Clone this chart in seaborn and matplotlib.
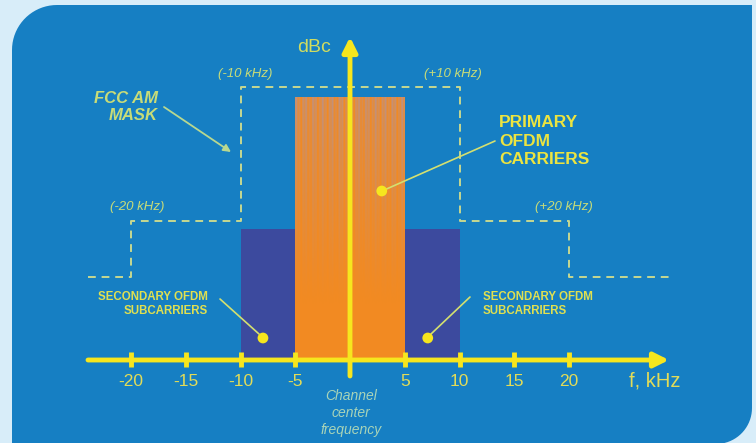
import numpy as np
import matplotlib
matplotlib.use("Agg")
import matplotlib.pyplot as plt
import matplotlib.transforms as mtransforms
from matplotlib.patches import PathPatch
from matplotlib.path import Path
import seaborn as sns

# spectrum data (frequency in kHz, relative level)
mask_f = [-23.9, -20, -20, -10, -10, 10, 10, 20, 20, 29.2]
mask_lvl = [8.3, 8.3, 13.9, 13.9, 27.3, 27.3, 13.9, 13.9, 8.3, 8.3]
primary_edges = [-5, 5]
primary_lvl = 26.3
secondary_left = [-10, -5]
secondary_right = [5, 10]
secondary_lvl = 13.1
tick_vals = [-20, -15, -10, -5, 5, 10, 15, 20]
tick_labels = ["-20", "-15", "-10", "-5", "5", "10", "15", "20"]
dot_f = [2.9, -7.95, 7.1]
dot_lvl = [16.9, 2.2, 2.2]

sns.set_theme(style="white")
plt.rcParams['font.family'] = ['Liberation Sans', 'DejaVu Sans']

YELLOW = "#f6e61e"
TXT = "#ece440"
PALE = "#c8dc78"
PANEL = "#167fc3"
ORANGE = "#f28a22"
PURPLE = "#3c4a9e"

W, H = 756, 443
fig = plt.figure(figsize=(W / 100, H / 100), dpi=100)
fig.patch.set_facecolor("#d8edf9")

# pixel -> data helpers (0 kHz at x=350, baseline at y=360)
def X(px):
    return (px - 350) / 10.95

def Y(py):
    return (360 - py) / 10.0

# rounded blue panel, drawn in pixel coordinates
pix = mtransforms.Affine2D().scale(1 / W, -1 / H).translate(0, 1) + fig.transFigure
r1, r2 = 45, 36
a1 = np.linspace(np.pi, 1.5 * np.pi, 20)
a2 = np.linspace(0, 0.5 * np.pi, 20)
pts = [(12, H + 10)]
pts += [(12 + r1 + r1 * np.cos(a), 5 + r1 + r1 * np.sin(a)) for a in a1]
pts += [(W + 10, 5), (752, 5)]
pts += [(752 - r2 + r2 * np.cos(a), 444 - r2 + r2 * np.sin(a)) for a in a2]
pts += [(12, 444), (12, H + 10)]
fig.patches.append(PathPatch(Path(pts), transform=pix, facecolor=PANEL,
                             edgecolor="none", zorder=-10))

ax = fig.add_axes([0, 0, 1, 1])
ax.set_zorder(5)
ax.set_facecolor("none")
ax.patch.set_alpha(0)
ax.axis("off")

# secondary subcarrier blocks
for lo, hi in [secondary_left, secondary_right]:
    ax.bar((lo + hi) / 2, secondary_lvl, width=hi - lo, color=PURPLE,
           linewidth=0, zorder=2)

# primary carriers block with striped texture
lo, hi = primary_edges
ax.bar((lo + hi) / 2, primary_lvl, width=hi - lo, color=ORANGE, linewidth=0, zorder=2)
cols = np.arange(110)
stripe = 0.5 + 0.25 * np.sin(cols * 1.9) + 0.25 * np.sin(cols * 0.71 + 1.0)
rows = np.linspace(1, 0, 160)
fade = np.clip((rows - 0.2) / 0.8, 0, 1) ** 1.2
tex = np.zeros((160, 110, 4))
tex[..., 0] = 0.70
tex[..., 1] = 0.58
tex[..., 2] = 0.60
tex[..., 3] = 0.8 * fade[:, None] * stripe[None, :]
ax.imshow(tex, extent=[lo, hi, 0, primary_lvl], aspect="auto", zorder=3,
          interpolation="bilinear")
ax.set_xlim(X(0), X(W))
ax.set_ylim(Y(H), Y(0))

# FCC mask
sns.lineplot(x=mask_f, y=mask_lvl, sort=False, estimator=None, ax=ax,
             color="#c6d890", linewidth=1.4, linestyle=(0, (4, 3)), zorder=4)

# axes with arrows
ax.annotate("", xy=(X(669), 0), xytext=(X(88), 0),
            arrowprops=dict(arrowstyle="-|>", color=YELLOW, lw=3.5,
                            mutation_scale=22, shrinkA=0, shrinkB=0), zorder=5)
ax.annotate("", xy=(0, Y(37)), xytext=(0, Y(376)),
            arrowprops=dict(arrowstyle="-|>", color=YELLOW, lw=3.5,
                            mutation_scale=22, shrinkA=0, shrinkB=0), zorder=5)
for t, lab in zip(tick_vals, tick_labels):
    ax.plot([t, t], [Y(367), Y(352)], color=YELLOW, lw=3.5, zorder=5,
            solid_capstyle="butt")
    ax.text(t, Y(381), lab, color="#e2dc58", fontsize=12.5, ha="center",
            va="center", zorder=6)
ax.text(X(655), Y(381), "f, kHz", color="#e2dc58", fontsize=14.5,
        ha="center", va="center")
ax.text(X(314), Y(47), "dBc", color="#d0dc60", fontsize=14, ha="center",
        va="center")

# annotation dots and leader lines
sns.scatterplot(x=dot_f, y=dot_lvl, ax=ax, color=YELLOW, s=60,
                edgecolor="none", zorder=7)
for (x0, y0), (x1, y1) in [((382, 191), (495, 141)),
                           ((220, 299), (259, 334)),
                           ((470, 297), (431, 334))]:
    ax.plot([X(x0), X(x1)], [Y(y0), Y(y1)], color="#d4e070", lw=1.2, zorder=6)

ax.annotate("", xy=(X(231), Y(152)), xytext=(X(164), Y(107)),
            arrowprops=dict(arrowstyle="-|>", color="#b8d890", lw=1.3,
                            mutation_scale=11, shrinkA=0, shrinkB=0))

# labels
ax.text(X(158), Y(107), "FCC AM\nMASK", color=PALE, fontsize=12,
        fontweight="bold", style="italic", ha="right", va="center",
        linespacing=1.2)
ax.text(X(499), Y(141), "PRIMARY\nOFDM\nCARRIERS", color=TXT, fontsize=12.5,
        fontweight="bold", ha="left", va="center", linespacing=1.27)
ax.text(X(208), Y(304), "SECONDARY OFDM\nSUBCARRIERS", color="#e0e050",
        fontsize=8.3, fontweight="bold", ha="right", va="center", linespacing=1.15)
ax.text(X(483), Y(304), "SECONDARY OFDM\nSUBCARRIERS", color="#e0e050",
        fontsize=8.3, fontweight="bold", ha="left", va="center", linespacing=1.15)
for px, py, s in [(245, 74, "(-10 kHz)"), (453, 74, "(+10 kHz)"),
                  (137, 207, "(-20 kHz)"), (564, 207, "(+20 kHz)")]:
    ax.text(X(px), Y(py), s, color=PALE, fontsize=9.5, style="italic",
            ha="center", va="center")
ax.text(X(351), Y(413), "Channel\ncenter\nfrequency", color="#a8d4b8", fontsize=10,
        style="italic", ha="center", va="center", linespacing=1.3)

fig.savefig("out.png", dpi=100, facecolor=fig.get_facecolor())
